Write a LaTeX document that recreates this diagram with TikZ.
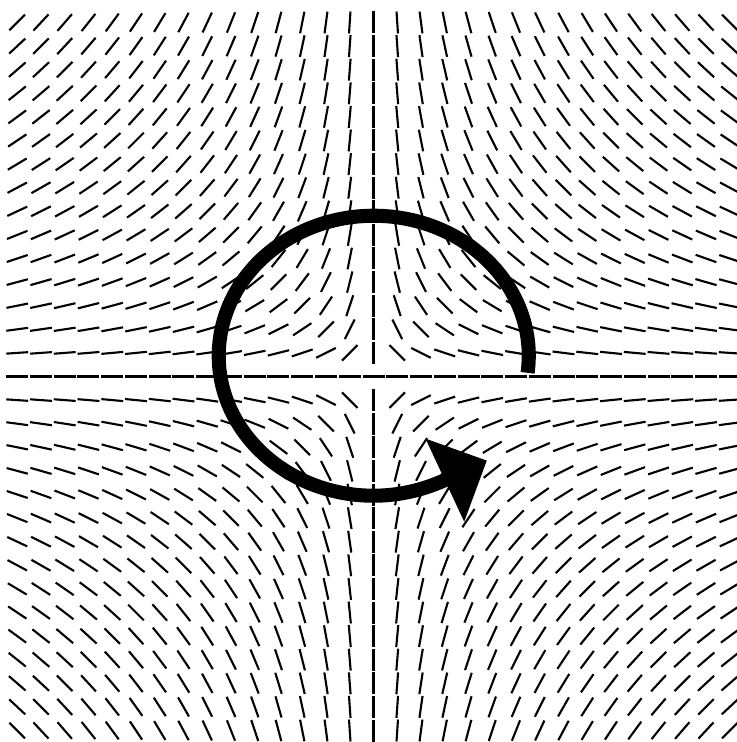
\documentclass[tikz,border=0pt]{standalone}
\usetikzlibrary{arrows.meta, calc}

\begin{document}
\begin{tikzpicture}[
    x=0.025cm, y=0.025cm,
    director/.style={line width=1.5pt, black},
    winding/.style={line width=10pt, black, -{Triangle[length=1.16cm, width=2.22cm]}, shorten >=-1.16cm},
]
\useasboundingbox (-373.5,-365.5) rectangle (362.5,376.5);
\def\dx{23.75}
\def\dy{23.6}
\def\len{22}

\coordinate (defect) at (0,0);
\coordinate (loopc) at (0.25,20.75);

% director field around the defect: angle = -phi
\foreach \i in {-15,...,15}
  \foreach \j in {-15,...,15}{
    \ifnum\numexpr\i*\i+\j*\j\relax=0 \def\ang{0}\else\pgfmathsetmacro\ang{-atan2(\j,\i)}\fi
    \draw[director] (\i*\dx,\j*\dy) ++(\ang:-\len/2) -- ++(\ang:\len);
  }

% loop round the defect
\draw[winding] ($(loopc)+(-7:155 and 140)$) arc[start angle=-7, end angle=297.3, x radius=155, y radius=140];

\end{tikzpicture}
\end{document}
